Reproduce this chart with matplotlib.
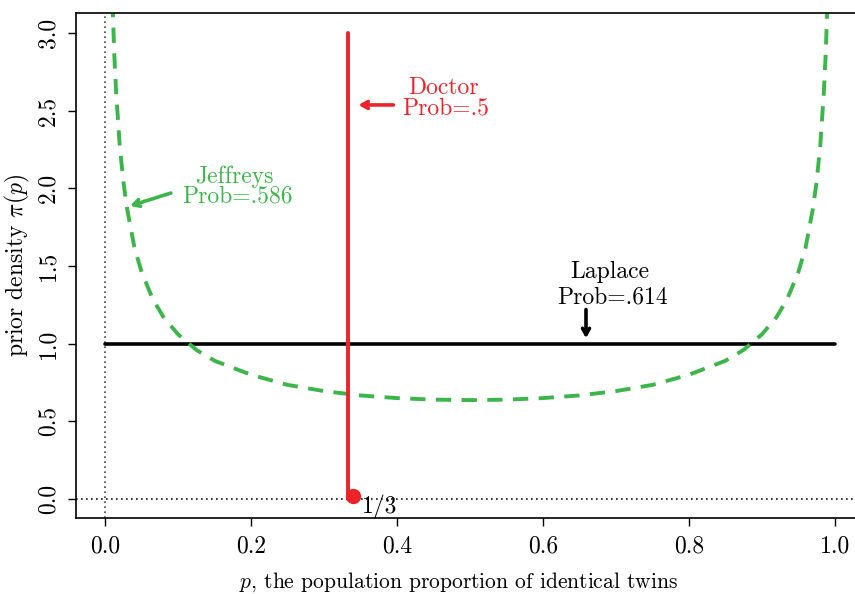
import matplotlib
matplotlib.use("Agg")
import matplotlib.pyplot as plt

# Jeffreys prior curve
jeff_p = [0.010, 0.0125, 0.015, 0.02, 0.025, 0.03, 0.04, 0.05, 0.065, 0.08,
          0.10, 0.125, 0.15, 0.20, 0.25, 0.30, 0.35, 0.40, 0.45, 0.50,
          0.55, 0.60, 0.65, 0.70, 0.75, 0.80, 0.85, 0.875, 0.90, 0.92,
          0.935, 0.95, 0.96, 0.97, 0.975, 0.98, 0.985, 0.9875, 0.99]
jeff_d = [3.20, 2.86, 2.62, 2.27, 2.04, 1.87, 1.62, 1.46, 1.29, 1.17,
          1.06, 0.96, 0.89, 0.80, 0.735, 0.695, 0.667, 0.650, 0.640, 0.637,
          0.640, 0.650, 0.667, 0.695, 0.735, 0.80, 0.89, 0.96, 1.06, 1.17,
          1.29, 1.46, 1.62, 1.87, 2.04, 2.27, 2.62, 2.86, 3.20]

# Laplace (uniform) prior
laplace_p = [0.0, 1.0]
laplace_d = [1.0, 1.0]

# Doctor prior: point mass at 1/3
doctor_p = [1 / 3, 1 / 3]
doctor_d = [0.0, 3.0]
doctor_dot = (0.34, 0.02)

x_ticks = [0.0, 0.2, 0.4, 0.6, 0.8, 1.0]
y_ticks = [0.0, 0.5, 1.0, 1.5, 2.0, 2.5, 3.0]

GREEN = "#3cb54a"
RED = "#ee2229"

plt.rcParams["font.family"] = ["cmr10", "DejaVu Serif"]
plt.rcParams["mathtext.fontset"] = "cm"
plt.rcParams["axes.formatter.use_mathtext"] = True
plt.rcParams["lines.scale_dashes"] = False

fig = plt.figure(figsize=(8.55, 5.94), dpi=100)
ax = fig.add_axes([0.0889, 0.1274, 0.9216, 0.8502])

# reference lines
ax.axvline(0, color="#333333", lw=1.1, linestyle=(0, (1.2, 2.4)))
ax.axhline(0, color="black", lw=1.1, linestyle=(0, (1.2, 2.4)))

ax.plot(laplace_p, laplace_d, color="black", lw=2.6, solid_capstyle="round")
ax.plot(jeff_p, jeff_d, color=GREEN, lw=2.8, dashes=(11, 7.5))
ax.plot(doctor_p, doctor_d, color=RED, lw=2.8, solid_capstyle="round")
ax.plot(*doctor_dot, "o", color=RED, markersize=10)

fs = 17
afs = 17
ax.text(0.352, -0.09, "1/3", fontsize=afs, ha="left", va="baseline")

arrow_kw = dict(arrowstyle="->,head_length=0.45,head_width=0.25", lw=2.6,
                shrinkA=0, shrinkB=0)

# labels drawn line by line, as in the reference
ax.text(0.464, 2.608, "Doctor", color=RED, fontsize=afs,
        ha="center", va="baseline")
ax.text(0.467, 2.473, "Prob=.5", color=RED, fontsize=afs,
        ha="center", va="baseline")
ax.annotate("", xy=(0.347, 2.537), xytext=(0.395, 2.537),
            arrowprops=dict(color=RED, **arrow_kw))

ax.text(0.177, 2.035, "Jeffreys", color=GREEN, fontsize=afs,
        ha="center", va="baseline")
ax.text(0.1815, 1.906, "Prob=.586", color=GREEN, fontsize=afs,
        ha="center", va="baseline")
ax.annotate("", xy=(0.034, 1.887), xytext=(0.090, 1.97),
            arrowprops=dict(color=GREEN, **arrow_kw))

ax.text(0.692, 1.423, "Laplace", color="black", fontsize=afs,
        ha="center", va="baseline")
ax.text(0.696, 1.262, "Prob=.614", color="black", fontsize=afs,
        ha="center", va="baseline")
ax.annotate("", xy=(0.659, 1.035), xytext=(0.659, 1.22),
            arrowprops=dict(color="black", **arrow_kw))

ax.set_xlim(-0.04, 1.04)
ax.set_ylim(-0.124, 3.127)
ax.set_xticks(x_ticks)
ax.set_xticklabels([f"{v:.1f}" for v in x_ticks])
ax.set_yticks(y_ticks)
ax.set_yticklabels([f"{v:.1f}" for v in y_ticks], rotation=90, va="center")
ax.tick_params(direction="out", length=6, width=1, labelsize=fs, pad=6)
for s in ax.spines.values():
    s.set_linewidth(1.2)

ax.set_xlabel("$p$, the population proportion of identical twins",
              fontsize=15.5, va="baseline")
ax.xaxis.set_label_coords(0.486, -0.137)
ax.set_ylabel(r"prior density $\pi(p)$", fontsize=17)
ax.yaxis.set_label_coords(-0.056, 0.5)

fig.savefig("out.png", dpi=100)
